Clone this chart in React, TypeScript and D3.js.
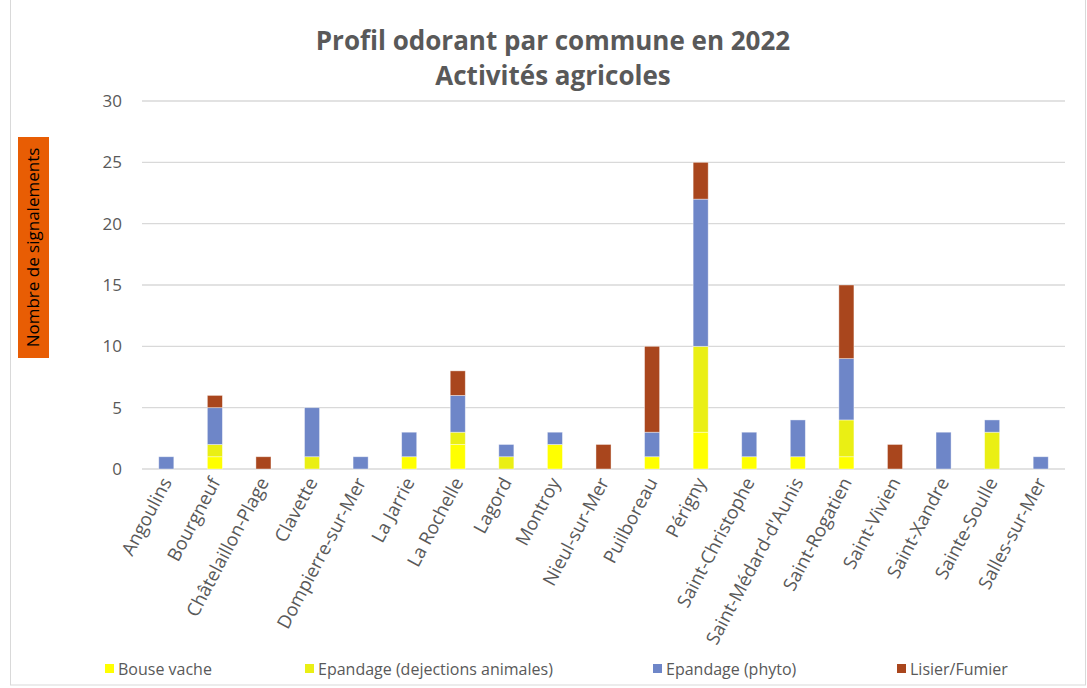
import React from "react";
import * as d3 from "d3";

const communes = ["Angoulins","Bourgneuf","Châtelaillon-Plage","Clavette","Dompierre-sur-Mer","La Jarrie","La Rochelle","Lagord","Montroy","Nieul-sur-Mer","Puilboreau","Périgny","Saint-Christophe","Saint-Médard-d'Aunis","Saint-Rogatien","Saint-Vivien","Saint-Xandre","Sainte-Soulle","Salles-sur-Mer"];
const bouseVache = [0,1,0,0,0,1,2,0,2,0,1,3,1,1,1,0,0,0,0];
const epandageDejections = [0,1,0,1,0,0,1,1,0,0,0,7,0,0,3,0,0,3,0];
const epandagePhyto = [1,3,0,4,1,2,3,1,1,0,2,12,2,3,5,0,3,1,1];
const lisierFumier = [0,1,1,0,0,0,2,0,0,2,7,3,0,0,6,2,0,0,0];
const seriesNames = ["Bouse vache","Epandage (dejections animales)","Epandage (phyto)","Lisier/Fumier"];
const seriesColors = ["#FFFF00","#EAEF14","#6E86C8","#A9461D"];
const yTicks = [0,5,10,15,20,25,30];

const W = 1087, H = 688;
const FONT = "'Open Sans', 'Noto Sans', sans-serif";

export default function App() {
  const x = d3.scaleBand().domain(communes).range([142, 1065]).paddingInner(0.69).paddingOuter(0.345);
  const y = d3.scaleLinear().domain([0, 30]).range([469, 101]);
  const rows = communes.map((c, i) => ({ c, s0: bouseVache[i], s1: epandageDejections[i], s2: epandagePhyto[i], s3: lisierFumier[i] }));
  const stack = d3.stack<any>().keys(["s0","s1","s2","s3"])(rows);
  const legendX = [105, 305, 653, 897];
  return (
    <svg width={W} height={H} style={{ position: "absolute", left: 0, top: 0, background: "#fff" }} fontFamily={FONT}>
      <rect x={10.5} y={-1} width={1075} height={686} fill="#fff" stroke="#d9d9d9" />
      <text x={553} y={50} textAnchor="middle" fontSize={26} fontWeight="bold" fill="#595959">Profil odorant par commune en 2022</text>
      <text x={553} y={85} textAnchor="middle" fontSize={26} fontWeight="bold" fill="#595959">Activités agricoles</text>
      {yTicks.map(t => (
        <g key={t}>
          <line x1={142} x2={1065} y1={y(t)} y2={y(t)} stroke="#d9d9d9" strokeWidth={1.3} />
          <text x={122} y={y(t)} dy="0.35em" textAnchor="end" fontSize={17} fill="#595959">{t}</text>
        </g>
      ))}
      <rect x={18} y={137} width={31} height={221} fill="#E85D04" />
      <text transform={`translate(39,${247.5}) rotate(-90)`} textAnchor="middle" fontSize={17} fill="#000">Nombre de signalements</text>
      {stack.map((layer, si) => (
        <g key={si} fill={seriesColors[si]}>
          {layer.map((d, i) => d[1] - d[0] > 0 ? (
            <rect key={i} x={x(communes[i])!} width={x.bandwidth()} y={y(d[1])} height={y(d[0]) - y(d[1])} stroke="#ffffff" strokeOpacity={0.5} strokeWidth={0.8} />
          ) : null)}
        </g>
      ))}
      {communes.map(c => (
        <text key={c} transform={`translate(${x(c)! + x.bandwidth() / 2 + 6},${482}) rotate(-62)`} textAnchor="end" fontSize={18.5} fill="#595959">{c}</text>
      ))}
      {seriesNames.map((n, i) => (
        <g key={n}>
          <rect x={legendX[i]} y={664} width={9} height={9} fill={seriesColors[i]} />
          <text x={legendX[i] + 13} y={669} dy="0.35em" fontSize={16} fill="#595959">{n}</text>
        </g>
      ))}
    </svg>
  );
}
